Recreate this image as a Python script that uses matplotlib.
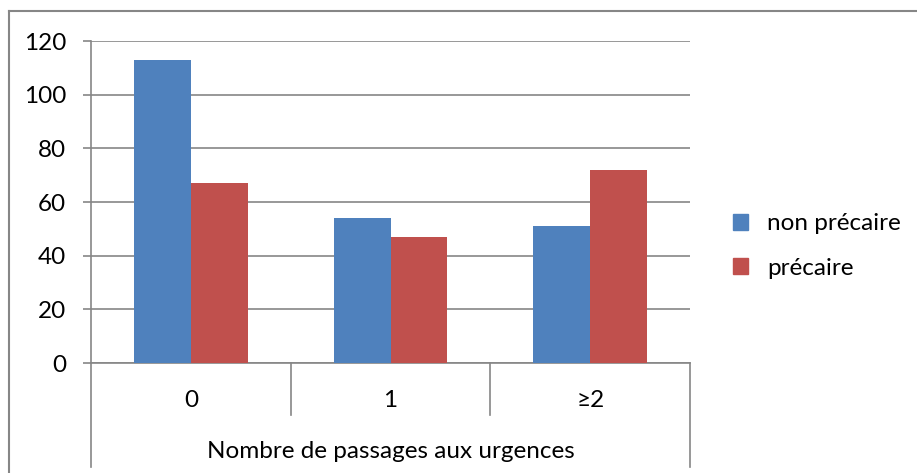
import numpy as np
import matplotlib.pyplot as plt
from matplotlib.lines import Line2D
from matplotlib.patches import Patch

plt.rcParams['font.family'] = ['Lato', 'DejaVu Sans']

# données
categories = ['0', '1', '≥2']
non_precaire = [113, 54, 51]
precaire = [67, 47, 72]
series_names = ['non précaire', 'précaire']
y_ticks = [0, 20, 40, 60, 80, 100, 120]

blue = '#4F81BD'
red = '#C0504D'
gray = '#868686'
W, H = 917, 473
fs = 17.5

fig = plt.figure(figsize=(W / 100, H / 100), dpi=100)
ax = fig.add_axes([91 / W, (H - 363) / H, 599 / W, 322 / H])

x = np.arange(len(categories))
bw = 0.285
ax.bar(x - bw / 2, non_precaire, bw, color=blue, label=series_names[0], zorder=3)
ax.bar(x + bw / 2, precaire, bw, color=red, label=series_names[1], zorder=3)

ax.set_xlim(-0.5, 2.5)
ax.set_ylim(0, 120)
ax.set_yticks(y_ticks)
ax.yaxis.grid(True, color=gray, lw=1.2)
ax.set_axisbelow(True)
ax.tick_params(axis='y', length=6, width=1.2, color=gray, labelsize=fs, pad=12)
ax.set_xticks([])
for s in ['top', 'right']:
    ax.spines[s].set_visible(False)
for s in ['left', 'bottom']:
    ax.spines[s].set_color(gray)
    ax.spines[s].set_linewidth(1.2)

# séparateurs de catégories (axe hiérarchique façon Excel)
trans = ax.get_xaxis_transform()
for b in [-0.5, 0.5, 1.5, 2.5]:
    low = -0.323 if b in (-0.5, 2.5) else -0.1615
    ax.plot([b, b], [0, low], color=gray, lw=1.2, transform=trans, clip_on=False)
for xi, lab in zip(x, categories):
    ax.text(xi, -0.115, lab, transform=trans, ha='center', va='center', fontsize=fs)
ax.text(1, -0.276, 'Nombre de passages aux urgences', transform=trans,
        ha='center', va='center', fontsize=fs)

# légende
handles = [Patch(color=blue), Patch(color=red)]
fig.legend(handles, series_names, loc='center left', bbox_to_anchor=(711 / W, 1 - 246 / H),
           frameon=False, fontsize=fs, handlelength=0.62, handleheight=0.62,
           handletextpad=0.78, labelspacing=0.97)

# cadre extérieur
fig.add_artist(Line2D([9 / W, 1], [1 - 11 / H, 1 - 11 / H], color=gray, lw=1.5))
fig.add_artist(Line2D([9 / W, 9 / W], [1 - 11 / H, 0], color=gray, lw=1.5))

fig.savefig('out.png', dpi=100)
